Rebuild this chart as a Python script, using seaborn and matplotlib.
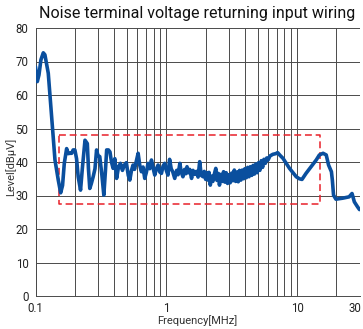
import matplotlib
matplotlib.use("Agg")
import matplotlib.pyplot as plt
import matplotlib.ticker as mticker
import matplotlib.transforms as mtransforms
import seaborn as sns
import pandas as pd

# Measured conducted noise (frequency in MHz, level in dBuV)
freq_mhz = [
    0.100, 0.1032, 0.1063, 0.110, 0.1147, 0.118, 0.1252, 0.129, 0.1329, 0.1367,
    0.1409, 0.146, 0.1493, 0.1557, 0.161, 0.166, 0.173, 0.178, 0.183, 0.189,
    0.194, 0.200, 0.206, 0.212, 0.221, 0.228, 0.239, 0.249, 0.254, 0.260,
    0.267, 0.276, 0.285, 0.293, 0.300, 0.310, 0.322, 0.333, 0.342, 0.350,
    0.361, 0.371, 0.381, 0.392,
    0.404, 0.417, 0.431, 0.446, 0.462, 0.478, 0.495, 0.512, 0.526, 0.542,
    0.557, 0.572, 0.588, 0.609, 0.627, 0.645, 0.664, 0.684, 0.705, 0.725,
    0.747, 0.770, 0.793, 0.816, 0.840, 0.866, 0.892, 0.918, 0.945, 0.973,
    1.00, 1.03, 1.06, 1.09, 1.12, 1.16, 1.20, 1.23, 1.27, 1.30,
    1.34, 1.38, 1.41, 1.44, 1.47, 1.51, 1.56, 1.60, 1.65, 1.70,
    1.75, 1.80, 1.85, 1.91, 1.95, 2.00, 2.04, 2.08, 2.12, 2.17,
    2.22, 2.27, 2.33, 2.39, 2.44, 2.50, 2.55, 2.61, 2.68, 2.74,
    2.80, 2.87, 2.94, 3.01, 3.08, 3.16, 3.23, 3.31, 3.39, 3.47,
    3.55, 3.63, 3.72, 3.81, 3.90, 3.99, 4.09, 4.19, 4.29, 4.39,
    4.50, 4.61, 4.72, 4.83, 4.95, 5.07, 5.19, 5.32, 5.45, 5.58,
    5.72, 5.86, 6.00, 6.20,
    6.53, 6.88, 7.10, 7.40, 7.80, 8.30, 8.75, 9.30, 9.85, 10.4,
    10.9, 11.7, 12.8, 14.0, 14.8, 15.8, 16.7, 17.4, 18.3, 18.6,
    19.0, 19.8, 22.3, 25.0, 26.3, 27.4, 29.0, 30.0,
]
level_dbuv = [
    68.4, 64.0, 66.0, 70.5, 72.6, 72.0, 66.5, 60.0, 53.5, 47.0,
    40.6, 37.0, 34.6, 30.8, 33.0, 39.6, 44.0, 42.5, 42.6, 42.6,
    43.6, 43.6, 41.0, 35.6, 31.6, 38.0, 46.5, 45.5, 38.0, 32.1,
    33.5, 35.6, 38.0, 43.6, 42.0, 41.6, 36.0, 30.1, 37.0, 43.6,
    43.6, 43.0, 40.0, 38.1,
    41.0, 35.1, 38.5, 39.6, 37.5, 39.1, 39.8, 36.0, 34.6, 37.5,
    39.1, 37.8, 40.0, 42.6, 39.0, 37.1, 38.5, 35.1, 37.0, 39.6,
    38.0, 40.6, 38.2, 36.1, 38.0, 39.1, 37.0, 36.6, 38.8, 39.6,
    37.5, 36.1, 40.8, 38.0, 37.1, 35.1, 37.5, 36.2, 39.6, 37.0,
    35.6, 37.8, 36.5, 38.6, 36.8, 37.8, 35.1, 37.5, 36.3, 37.2,
    35.5, 40.1, 36.0, 35.6, 37.2, 34.8, 36.8, 34.6, 36.9, 33.1,
    35.8, 34.2, 36.4, 38.1, 34.5, 36.6, 33.1, 36.3, 34.2, 37.1,
    34.0, 36.8, 33.6, 36.2, 33.8, 36.7, 34.4, 37.6, 34.2, 37.0,
    34.1, 37.5, 34.6, 37.6, 35.0, 38.0, 35.3, 38.4, 35.6, 38.6,
    36.0, 39.0, 36.4, 39.4, 36.8, 39.8, 37.5, 40.4, 38.4, 40.8,
    39.6, 41.2, 40.6, 41.8,
    42.3, 42.5, 42.8, 42.0, 41.1, 39.5, 38.1, 36.8, 35.6, 35.0,
    34.8, 36.6, 38.6, 40.6, 42.1, 42.6, 42.1, 39.1, 37.1, 34.6,
    30.1, 28.9, 29.2, 29.6, 30.6, 28.1, 26.6, 25.8,
]

# Highlighted band (dashed box)
box_freq = [0.15, 15.0]
box_level = [27.5, 48.0]

x_ticks = [0.1, 1, 10, 30]
x_tick_labels = ["0.1", "1", "10", "30"]
y_ticks = [0, 10, 20, 30, 40, 50, 60, 70, 80]

sns.set_theme(style="white")
plt.rcParams["font.family"] = ["Roboto", "DejaVu Sans"]

df = pd.DataFrame({"Frequency": freq_mhz, "Level": level_dbuv})

fig = plt.figure(figsize=(3.63, 3.29), dpi=100)
ax = fig.add_axes([35.5 / 363, 33 / 329, 324 / 363, 268 / 329])

ax.set_xscale("log")
ax.set_xlim(0.1, 30)
ax.set_ylim(0, 80)

grid_color = "#4a4a4a"
ax.set_xticks(x_ticks)
ax.set_xticklabels(x_tick_labels)
ax.xaxis.set_minor_locator(mticker.LogLocator(base=10, subs=range(2, 10)))
ax.xaxis.set_minor_formatter(mticker.NullFormatter())
ax.set_yticks(y_ticks)
ax.grid(which="both", axis="x", color=grid_color, linewidth=0.7)
ax.grid(which="major", axis="y", color=grid_color, linewidth=0.7)
ax.set_axisbelow(True)

for side in ("top", "right"):
    ax.spines[side].set_visible(False)
for side in ("left", "bottom"):
    ax.spines[side].set_color(grid_color)
    ax.spines[side].set_linewidth(0.7)

ax.tick_params(axis="x", which="both", length=0, pad=4, labelsize=8.3, colors="#222222")
ax.tick_params(axis="y", which="major", length=3, width=0.7, color="#aaaaaa",
               pad=2, labelsize=8.3, labelcolor="#222222")

# keep the last frequency label inside the figure
last = ax.get_xticklabels()[-1]
last.set_transform(last.get_transform() +
                   mtransforms.ScaledTranslation(-5 / 100, 0, fig.dpi_scale_trans))

# Dashed box
bx = [box_freq[0], box_freq[1], box_freq[1], box_freq[0], box_freq[0]]
by = [box_level[1], box_level[1], box_level[0], box_level[0], box_level[1]]
ax.plot(bx, by, color="#e8202a", linewidth=1.1, linestyle=(0, (4.5, 2.5)), zorder=3)

sns.lineplot(data=df, x="Frequency", y="Level", ax=ax, color="#0a4f9e",
             linewidth=2.6, estimator=None, sort=False, zorder=4)

ax.set_xlabel("Frequency[MHz]", fontsize=8, color="#333333", va="center")
ax.xaxis.set_label_coords(0.5, -0.092)
ax.set_ylabel("Level[dBμV]", fontsize=8, color="#333333", va="center")
ax.yaxis.set_label_coords(-0.077, 0.48)
ax.set_title("Noise terminal voltage returning input wiring", fontsize=11.5,
             color="#111111", pad=7)

fig.savefig("out.png", dpi=100)
